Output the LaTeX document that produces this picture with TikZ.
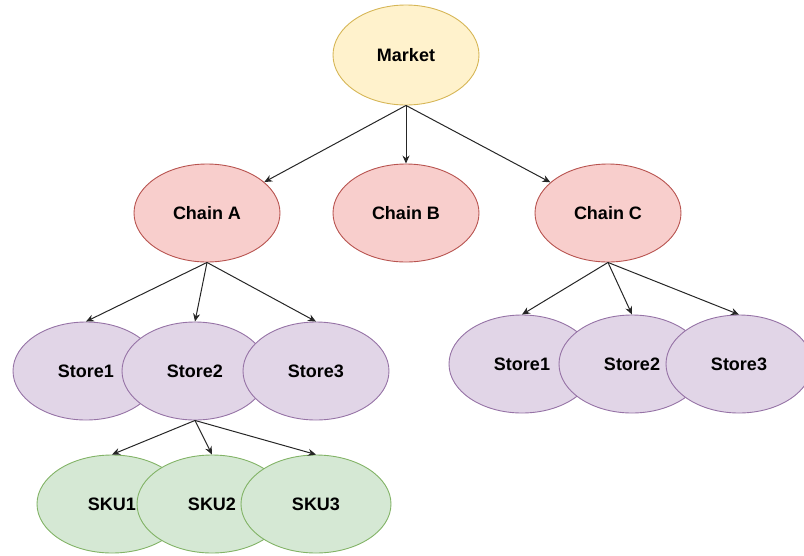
\documentclass[tikz,border=0pt]{standalone}
\usepackage{fontspec}
\setmainfont{Liberation Sans}
\usetikzlibrary{shapes.geometric,arrows.meta}
\definecolor{mktfill}{HTML}{FFF2CC}
\definecolor{mktline}{HTML}{D6B656}
\definecolor{chnfill}{HTML}{F8CECC}
\definecolor{chnline}{HTML}{B85450}
\definecolor{strfill}{HTML}{E1D5E7}
\definecolor{strline}{HTML}{9673A6}
\definecolor{skufill}{HTML}{D5E8D4}
\definecolor{skuline}{HTML}{82B366}
\begin{document}
\begin{tikzpicture}[x=1pt,y=-1pt,
  blob/.style={ellipse,draw,line width=0.9pt,inner sep=0pt,
    minimum width=146pt,minimum height=98pt,
    font=\fontsize{18}{20}\selectfont\bfseries},
  market/.style={blob,fill=mktfill,draw=mktline,minimum height=100pt},
  chain/.style={blob,fill=chnfill,draw=chnline},
  store/.style={blob,fill=strfill,draw=strline},
  sku/.style={blob,fill=skufill,draw=skuline,minimum width=150pt},
  link/.style={-{Stealth[length=8pt,width=7pt]},line width=1pt,black!85}]
\useasboundingbox (0,0) rectangle (804,555);
\draw (406,55) node[market] (market) {Market};

\draw (207,213) node[chain] (chainA) {Chain A};
\draw (406,213) node[chain] (chainB) {Chain B};
\draw (608,213) node[chain] (chainC) {Chain C};
\draw[link] (market.south) -- (chainA);
\draw[link] (market.south) -- (chainB.north);
\draw[link] (market.south) -- (chainC);

\draw (86,371) node[store] (storeA1) {Store1};
\draw (195,371) node[store] (storeA2) {Store2};
\draw (316,371) node[store] (storeA3) {Store3};
\draw[link] (chainA.south) -- (storeA1.north);
\draw[link] (chainA.south) -- (storeA2.north);
\draw[link] (chainA.south) -- (storeA3.north);

\draw (522,364) node[store] (storeC1) {Store1};
\draw (632,364) node[store] (storeC2) {Store2};
\draw (739,364) node[store] (storeC3) {Store3};
\draw[link] (chainC.south) -- (storeC1.north);
\draw[link] (chainC.south) -- (storeC2.north);
\draw[link] (chainC.south) -- (storeC3.north);

\draw (112,504) node[sku] (sku1) {SKU1};
\draw (212,504) node[sku] (sku2) {SKU2};
\draw (316,504) node[sku] (sku3) {SKU3};
\draw[link] (storeA2.south) -- (sku1.north);
\draw[link] (storeA2.south) -- (sku2.north);
\draw[link] (storeA2.south) -- (sku3.north);
\end{tikzpicture}
\end{document}
